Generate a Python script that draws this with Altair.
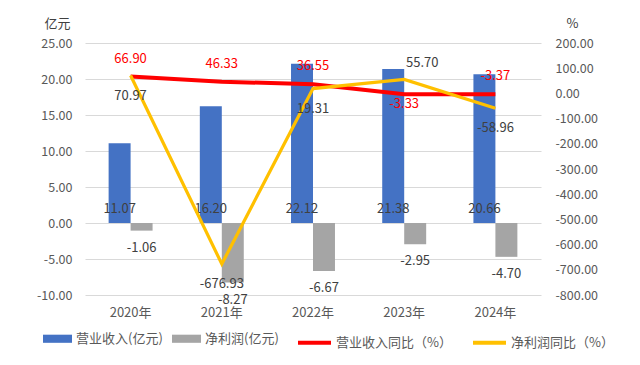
import altair as alt
import pandas as pd

years = ["2020年", "2021年", "2022年", "2023年", "2024年"]
revenue = [11.07, 16.20, 22.12, 21.38, 20.66]
net_profit = [-1.06, -8.27, -6.67, -2.95, -4.70]
revenue_yoy = [66.90, 46.33, 36.55, -3.33, -3.37]
profit_yoy = [70.97, -676.93, 19.31, 55.70, -58.96]
bar_series = ["营业收入(亿元)", "净利润(亿元)"]
line_series = ["营业收入同比（%）", "净利润同比（%）"]
left_ticks = [-10, -5, 0, 5, 10, 15, 20, 25]
right_ticks = [-800, -700, -600, -500, -400, -300, -200, -100, 0, 100, 200]

FONT = "Noto Sans CJK SC"
BLUE, GRAY, RED, YELLOW = "#4472C4", "#A5A5A5", "#FF0000", "#FFC000"
FIX_MINUS = "replace(datum.label, '\u2212', '-')"
LABEL_EXPR = "replace(format(datum.value, '.2f'), '\u2212', '-')"

bar_df = pd.DataFrame(
    [{"year": y, "series": bar_series[0], "value": v} for y, v in zip(years, revenue)]
    + [{"year": y, "series": bar_series[1], "value": v} for y, v in zip(years, net_profit)]
)
line_df = pd.DataFrame(
    [{"year": y, "series": line_series[0], "value": v} for y, v in zip(years, revenue_yoy)]
    + [{"year": y, "series": line_series[1], "value": v} for y, v in zip(years, profit_yoy)]
)

x_enc = alt.X(
    "year:N", sort=years,
    scale=alt.Scale(paddingInner=0.518, paddingOuter=0.259),
    axis=alt.Axis(title=None, labelAngle=0, domain=False, ticks=False,
                  labelPadding=11, labelFontSize=13, grid=False),
)
xoff = alt.XOffset("series:N", sort=bar_series, scale=alt.Scale(paddingInner=0, paddingOuter=0))

axis_left = alt.Axis(orient="left", values=left_ticks, tickCount=len(left_ticks),
                     format=".2f", labelExpr=FIX_MINUS, grid=True,
                     gridColor="#D9D9D9", gridWidth=1, domain=False, ticks=False,
                     labelOverlap=False, labelFlush=False,
                     labelPadding=13, title="亿元", titleAngle=0, titleX=-28, titleY=-20,
                     titleAlign="center", titleBaseline="middle", titleFontSize=13,
                     titleFontWeight="normal", titleColor="#404040")
axis_right = alt.Axis(orient="right", values=right_ticks, tickCount=len(right_ticks),
                      format=".2f", labelExpr=FIX_MINUS, grid=False,
                      domain=False, ticks=False, labelPadding=14, title="%",
                      labelOverlap=False, labelFlush=False,
                      titleAngle=0, titleX=31, titleY=-20, titleAlign="center",
                      titleBaseline="middle", titleFontSize=13, titleFontWeight="normal",
                      titleColor="#404040")
scale_left = alt.Scale(domain=[-10, 25], nice=False, zero=False)
scale_right = alt.Scale(domain=[-800, 200], nice=False, zero=False)


def yl(field):
    return alt.Y(field, scale=scale_left, axis=axis_left)


def yr(field):
    return alt.Y(field, scale=scale_right, axis=axis_right)


bars = alt.Chart(bar_df).mark_bar(strokeWidth=0).encode(
    x=x_enc, xOffset=xoff, y=yl("value:Q"),
    fill=alt.Fill("series:N", sort=bar_series,
                  scale=alt.Scale(domain=bar_series, range=[BLUE, GRAY]),
                  legend=alt.Legend(orient="none", direction="horizontal", title=None,
                                    legendX=-42, legendY=281,
                                    symbolType="M-1,-0.28H1V0.28H-1Z", symbolSize=841,
                                    symbolStrokeWidth=0, labelOffset=4, columnPadding=9)),
)

rev_labels = alt.Chart(bar_df).transform_filter(
    alt.datum.series == bar_series[0]
).transform_calculate(base="0", lbl=LABEL_EXPR).mark_text(
    fontSize=13, color="#404040", dy=-14, font=FONT
).encode(
    x=alt.X("year:N", sort=years), xOffset=xoff,
    y=yl("base:Q"), text="lbl:N",
)
np_labels = alt.Chart(bar_df).transform_filter(
    alt.datum.series == bar_series[1]
).transform_calculate(lbl=LABEL_EXPR).mark_text(
    fontSize=13, color="#404040", dy=17, font=FONT
).encode(
    x=alt.X("year:N", sort=years), xOffset=xoff,
    y=yl("value:Q"), text="lbl:N",
)

bar_group = alt.layer(bars, rev_labels, np_labels)

stroke_enc = alt.Stroke(
    "series:N", sort=line_series,
    scale=alt.Scale(domain=line_series, range=[RED, YELLOW]),
    legend=alt.Legend(orient="none", direction="horizontal", title=None,
                      legendX=211, legendY=281, symbolType="stroke",
                      symbolSize=1089, symbolStrokeWidth=4, labelOffset=3,
                      columnPadding=13),
)

red_line = alt.Chart(line_df).transform_filter(
    alt.datum.series == line_series[0]
).mark_line(strokeWidth=4).encode(x=alt.X("year:N", sort=years), y=yr("value:Q"), stroke=stroke_enc)
yellow_line = alt.Chart(line_df).transform_filter(
    alt.datum.series == line_series[1]
).mark_line(strokeWidth=3.2).encode(x=alt.X("year:N", sort=years), y=yr("value:Q"), stroke=stroke_enc)


def lbl(series, color, cond, dy, dx=0):
    return alt.Chart(line_df).transform_filter(
        alt.datum.series == series
    ).transform_filter(cond).transform_calculate(lbl=LABEL_EXPR).mark_text(
        fontSize=13, color=color, dy=dy, dx=dx, font=FONT
    ).encode(
        x=alt.X("year:N", sort=years), y=yr("value:Q"), text="lbl:N",
    )


red_above = lbl(line_series[0], RED, alt.datum.year != "2023年", -18)
red_below = lbl(line_series[0], RED, alt.datum.year == "2023年", 10)
yel_below = lbl(line_series[1], "#404040", alt.datum.year != "2023年", 20)
yel_above = lbl(line_series[1], "#404040", alt.datum.year == "2023年", -16, 18)

line_group = alt.layer(red_line, yellow_line, red_above, red_below, yel_below, yel_above)

chart = alt.layer(bar_group, line_group).resolve_scale(
    y="independent"
).properties(
    width=456, height=252,
    autosize=alt.AutoSizeParams(type="none"),
    padding={"left": 77, "top": 35, "right": 91, "bottom": 62},
).configure_view(stroke=None).configure_axis(
    labelFont=FONT, labelFontSize=12.5, labelColor="#595959", titleFont=FONT
).configure_legend(
    labelFont=FONT, labelFontSize=13, labelColor="#595959"
).configure_text(font=FONT)

chart.save("out.html", embed_options={"renderer": "svg", "actions": False})
